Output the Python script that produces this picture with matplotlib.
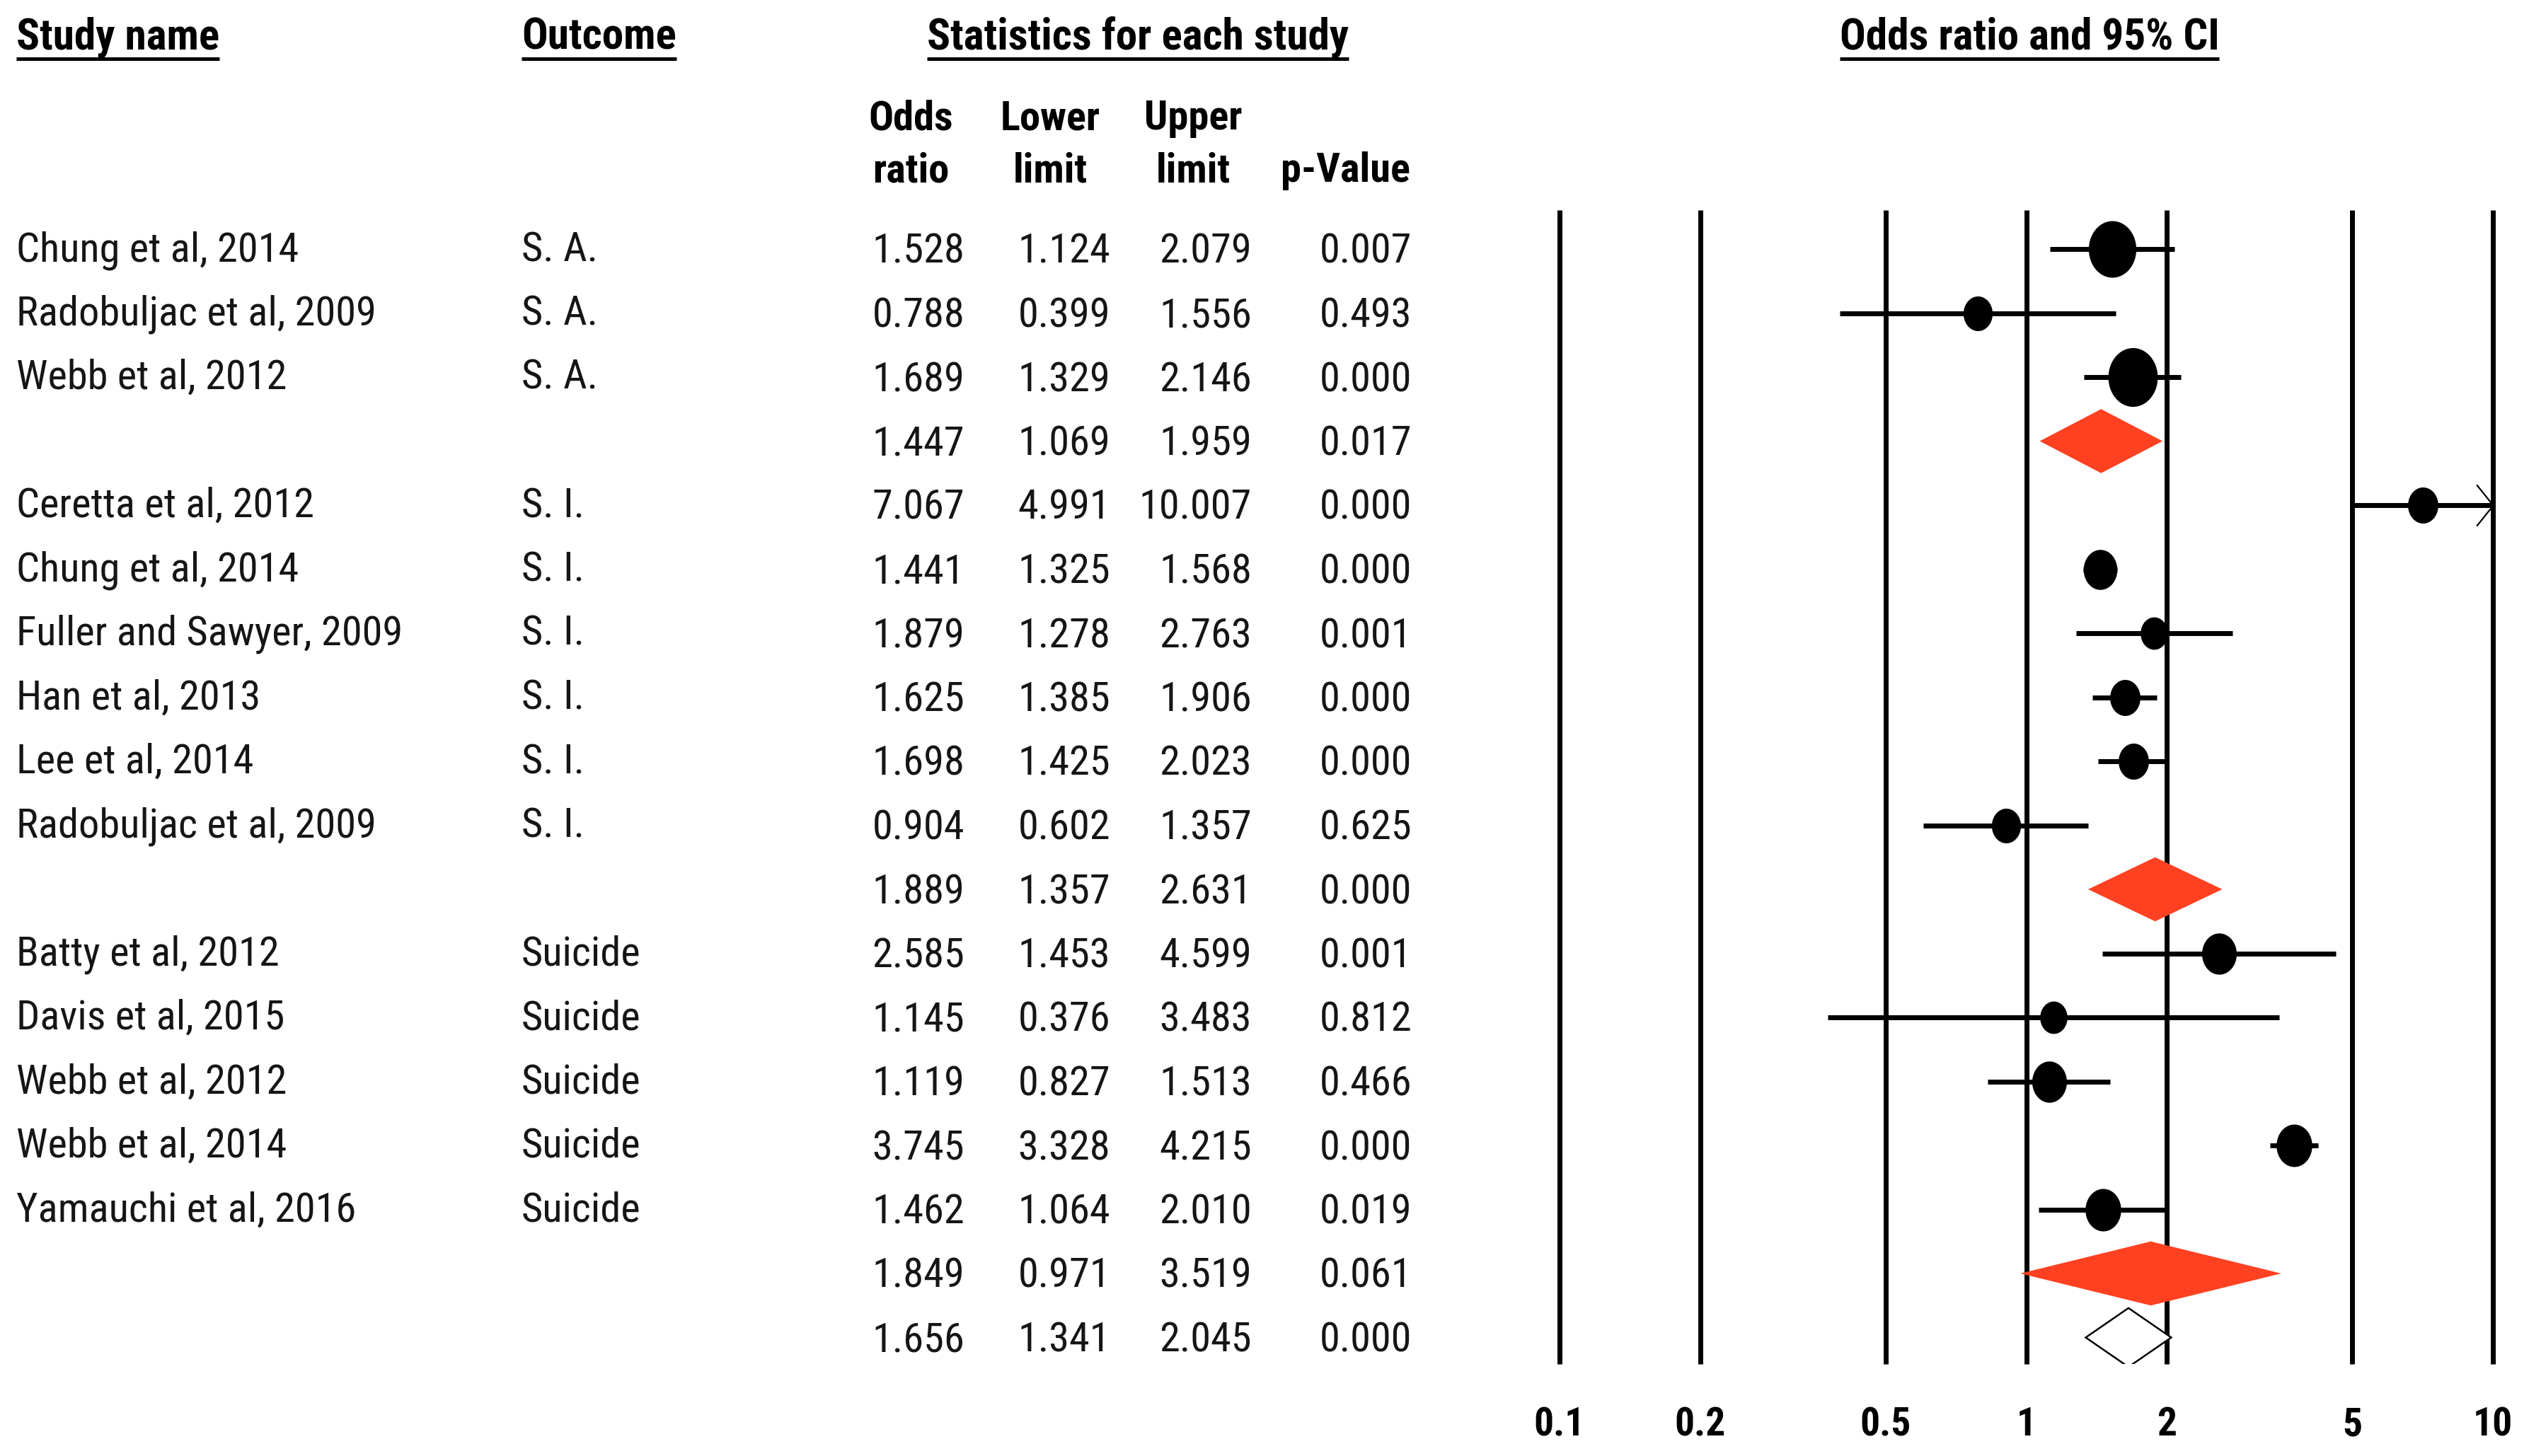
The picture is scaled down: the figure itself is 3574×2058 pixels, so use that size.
import numpy as np
import matplotlib
matplotlib.use("Agg")
import matplotlib.pyplot as plt
import matplotlib.transforms as mtransforms
from matplotlib import font_manager as fm
from matplotlib.path import Path

# %% data
study = ["Chung et al, 2014", "Radobuljac et al, 2009", "Webb et al, 2012", "",
         "Ceretta et al, 2012", "Chung et al, 2014", "Fuller and Sawyer, 2009",
         "Han et al, 2013", "Lee et al, 2014", "Radobuljac et al, 2009", "",
         "Batty et al, 2012", "Davis et al, 2015", "Webb et al, 2012",
         "Webb et al, 2014", "Yamauchi et al, 2016", "", ""]
outcome = ["S. A.", "S. A.", "S. A.", "",
           "S. I.", "S. I.", "S. I.", "S. I.", "S. I.", "S. I.", "",
           "Suicide", "Suicide", "Suicide", "Suicide", "Suicide", "", ""]
odds = [1.528, 0.788, 1.689, 1.447,
        7.067, 1.441, 1.879, 1.625, 1.698, 0.904, 1.889,
        2.585, 1.145, 1.119, 3.745, 1.462, 1.849, 1.656]
lower = [1.124, 0.399, 1.329, 1.069,
         4.991, 1.325, 1.278, 1.385, 1.425, 0.602, 1.357,
         1.453, 0.376, 0.827, 3.328, 1.064, 0.971, 1.341]
upper = [2.079, 1.556, 2.146, 1.959,
         10.007, 1.568, 2.763, 1.906, 2.023, 1.357, 2.631,
         4.599, 3.483, 1.513, 4.215, 2.010, 3.519, 2.045]
pval = ["0.007", "0.493", "0.000", "0.017",
        "0.000", "0.000", "0.001", "0.000", "0.000", "0.625", "0.000",
        "0.001", "0.812", "0.466", "0.000", "0.019", "0.061", "0.000"]
kind = ["study", "study", "study", "subgroup",
        "study", "study", "study", "study", "study", "study", "subgroup",
        "study", "study", "study", "study", "study", "subgroup", "overall"]
# relative weight (box area) per study
weight = [64, 24, 69, 0, 26, 32, 21, 26, 26, 24, 0, 34, 21, 34, 36, 36, 0, 0]

ticks = [0.1, 0.2, 0.5, 1, 2, 5, 10]
tick_labels = ["0.1", "0.2", "0.5", "1", "2", "5", "10"]


# %% pick a narrow sans if one is installed, else plain Liberation Sans
def _w(f):
    w = f.weight
    if isinstance(w, str):
        w = {'normal': 400, 'regular': 400, 'book': 400, 'bold': 700}.get(w, 400)
    return w


def find_narrow():
    cands = []
    for f in fm.fontManager.ttflist:
        if f.style != 'normal':
            continue
        narrow = (f.stretch in ('condensed', 'semi-condensed', 'extra-condensed')
                  or 'Narrow' in f.name or 'Condensed' in f.name)
        if narrow and 'Mono' not in f.name and 'Serif' not in f.name:
            cands.append(f)
    if not cands:
        return None, None
    pref = ['Liberation Sans Narrow', 'Arial Narrow', 'Noto Sans', 'Noto Sans Condensed',
            'Roboto Condensed', 'Open Sans', 'DejaVu Sans']
    cands.sort(key=lambda f: pref.index(f.name) if f.name in pref else 99)
    fam = cands[0].name
    same = [f for f in cands if f.name == fam]
    reg = min(same, key=lambda f: abs(_w(f) - 400))
    bld = min(same, key=lambda f: abs(_w(f) - 700))
    return reg.fname, bld.fname


reg_file, bold_file = find_narrow()
if reg_file:
    fp_reg = fm.FontProperties(fname=reg_file)
    fp_bold = fm.FontProperties(fname=bold_file)
    fs, fs_head, fs_tick = 42, 44, 40
else:
    fp_reg = fm.FontProperties(family=['Liberation Sans', 'DejaVu Sans'])
    fp_bold = fm.FontProperties(family=['Liberation Sans', 'DejaVu Sans'], weight='bold')
    fs, fs_head, fs_tick = 35, 36, 34

# %% layout
W, H = 3574, 2058
row0, drow = 352, 90.5
top_px, bot_px = 297, 1928
left_px, right_px = 2204, 3523
red = '#FF4121'
txt_col = '#151515'

fig = plt.figure(figsize=(W / 100, H / 100), dpi=100)
fig.patch.set_facecolor('white')

tx = fig.add_axes([0, 0, 1, 1])
tx.set_xlim(0, W)
tx.set_ylim(H, 0)
tx.axis('off')

ax = fig.add_axes([left_px / W, 1 - bot_px / H, (right_px - left_px) / W, (bot_px - top_px) / H])
ax.set_xscale('log')
ax.set_xlim(0.1, 10)
ax.set_ylim((bot_px - row0) / drow, (top_px - row0) / drow)
ax.axis('off')

for t in ticks:
    ax.axvline(t, color='black', lw=5, solid_capstyle='butt', clip_on=False, zorder=1)

tt = np.linspace(0, 2 * np.pi, 80)
ellipse = list(zip(0.84 * np.cos(tt), np.sin(tt)))
chevron = Path([(-0.8, 1), (0, 0), (-0.8, -1)], [Path.MOVETO, Path.LINETO, Path.LINETO])

rows = np.arange(len(study))
for i in rows:
    if kind[i] == "study":
        ax.plot([lower[i], upper[i]], [i, i], color='black', lw=5,
                solid_capstyle='butt', zorder=2)
        ax.plot(odds[i], i, marker=ellipse, ms=0.72 * 10 * np.sqrt(weight[i]),
                color='black', mew=0, zorder=3)
        if upper[i] > 10:
            ax.plot(10, i, marker=chevron, ms=42, mfc='none', mec='black',
                    mew=1.6, clip_on=False, zorder=3)
    elif kind[i] == "subgroup":
        ax.fill([lower[i], odds[i], upper[i], odds[i]], [i, i - 0.5, i, i + 0.5],
                color=red, lw=0, zorder=3)
    else:
        ax.fill([lower[i], odds[i], upper[i], odds[i]], [i, i - 0.46, i, i + 0.46],
                facecolor='white', edgecolor='black', lw=1.8, zorder=3)

# tick labels under the forest panel
trans = mtransforms.blended_transform_factory(ax.transData, tx.transData)
for t, lab in zip(ticks, tick_labels):
    tx.text(t, 2029, lab, transform=trans, ha='center', va='baseline',
            fontproperties=fp_bold, fontsize=fs_tick, color='black')

# %% table text
name_x, outcome_x = 23, 737
col_right = [1363, 1569, 1769, 1995]
for i in rows:
    yb = row0 + i * drow + 20
    tx.text(name_x, yb - 3, study[i], fontproperties=fp_reg, fontsize=fs,
            color=txt_col, va='baseline')
    tx.text(outcome_x, yb - 3, outcome[i], fontproperties=fp_reg, fontsize=fs,
            color=txt_col, va='baseline')
    vals = [f"{odds[i]:.3f}", f"{lower[i]:.3f}", f"{upper[i]:.3f}", pval[i]]
    for x, v in zip(col_right, vals):
        tx.text(x, yb, v, fontproperties=fp_reg, fontsize=fs, color=txt_col,
                ha='right', va='baseline')

# column sub headers
sub = [("Odds", "ratio", 1287), ("Lower", "limit", 1484), ("Upper", "limit", 1686), ("", "p-Value", 1901)]
for l1, l2, x in sub:
    tx.text(x, 183, l1, fontproperties=fp_bold, fontsize=fs, ha='center', va='baseline')
    tx.text(x, 257, l2, fontproperties=fp_bold, fontsize=fs, ha='center', va='baseline')

# underlined section headers
heads = [("Study name", 23, 'left'), ("Outcome", 737, 'left'),
         ("Statistics for each study", 1608, 'center'),
         ("Odds ratio and 95% CI", 2868, 'center')]
head_txt = []
for s, x, ha in heads:
    head_txt.append(tx.text(x, 70, s, fontproperties=fp_bold, fontsize=fs_head,
                            ha=ha, va='baseline'))

fig.canvas.draw()
r = fig.canvas.get_renderer()
for t in head_txt:
    bb = t.get_window_extent(r)
    x0 = tx.transData.inverted().transform((bb.x0, 0))[0]
    x1 = tx.transData.inverted().transform((bb.x1, 0))[0]
    tx.plot([x0, x1], [83, 83], color='black', lw=3.6, solid_capstyle='butt')

fig.savefig('out.png', dpi=100)
